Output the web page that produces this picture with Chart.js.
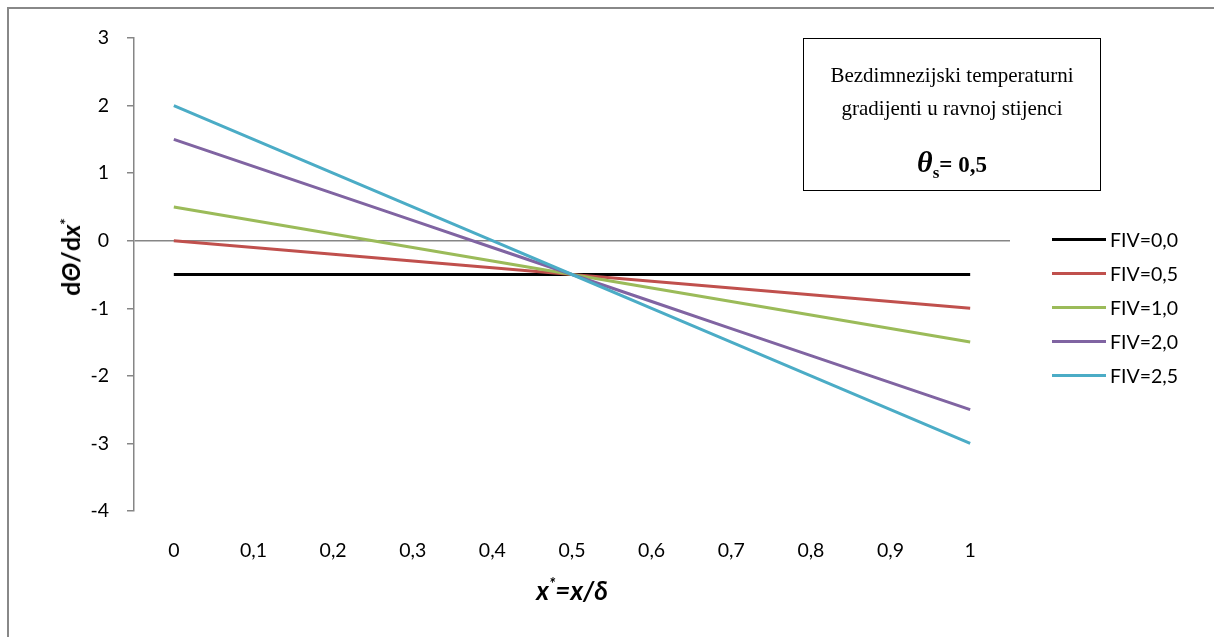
<!DOCTYPE html>
<html><head><meta charset="utf-8">
<script src="https://cdn.jsdelivr.net/npm/chart.js@4/dist/chart.umd.min.js"></script>
<style>
html,body{margin:0;padding:0;background:#fff;}
#wrap{position:relative;width:1214px;height:637px;overflow:hidden;}
#frame{position:absolute;left:7px;top:7px;width:1300px;height:700px;border:2px solid #888;box-sizing:border-box;}
canvas{position:absolute;left:0;top:0;}
#box{position:absolute;left:803px;top:38px;width:298px;height:153px;border:1.5px solid #000;box-sizing:border-box;font-family:"Liberation Serif","Times New Roman",serif;text-align:center;color:#000;}
#box .l1{position:absolute;left:0;right:0;top:20px;font-size:21px;line-height:33px;}
#box .l3{position:absolute;left:0;right:0;top:106px;font-size:23px;font-weight:bold;}
#ytitle{position:absolute;left:70px;top:257px;transform:translate(-50%,-50%) rotate(-90deg);font-family:Lato,"Open Sans",sans-serif;font-weight:bold;font-size:25px;white-space:nowrap;color:#000;}
#xtitle{position:absolute;left:572px;top:590px;transform:translate(-50%,-50%);font-family:Lato,"Open Sans",sans-serif;font-weight:bold;font-style:italic;font-size:26px;white-space:nowrap;color:#000;}
#legend{position:absolute;left:1052px;top:0;font-family:Lato,"Open Sans",sans-serif;font-size:19.5px;color:#000;}
#legend .it{position:absolute;left:0;white-space:nowrap;height:24px;line-height:24px;}
#legend .sw{position:absolute;left:0;top:10px;width:54px;height:3px;}
#legend .tx{position:absolute;left:58px;top:0;}
sup{font-size:62%;}
</style></head>
<body><div id="wrap">
<div id="frame"></div>
<canvas id="c" width="1214" height="637"></canvas>
<div id="box"><div class="l1">Bezdimnezijski temperaturni<br>gradijenti u ravnoj stijenci</div>
<div class="l3"><i style="font-size:30px">θ</i><sub style="font-size:17px">s</sub>= 0,5</div></div>
<div id="ytitle">d<i>Θ</i>/d<i>x</i><sup>*</sup></div>
<div id="xtitle">x<sup>*</sup>=x/δ</div>
<div id="legend"></div>
</div>
<script>
const categories = ['0','0,1','0,2','0,3','0,4','0,5','0,6','0,7','0,8','0,9','1'];
const seriesNames = ['FIV=0,0','FIV=0,5','FIV=1,0','FIV=2,0','FIV=2,5'];
const fiv00 = [-0.5,-0.5,-0.5,-0.5,-0.5,-0.5,-0.5,-0.5,-0.5,-0.5,-0.5];
const fiv05 = [0,-0.1,-0.2,-0.3,-0.4,-0.5,-0.6,-0.7,-0.8,-0.9,-1];
const fiv10 = [0.5,0.3,0.1,-0.1,-0.3,-0.5,-0.7,-0.9,-1.1,-1.3,-1.5];
const fiv20 = [1.5,1.1,0.7,0.3,-0.1,-0.5,-0.9,-1.3,-1.7,-2.1,-2.5];
const fiv25 = [2,1.5,1,0.5,0,-0.5,-1,-1.5,-2,-2.5,-3];
const yTicks = [-4,-3,-2,-1,0,1,2,3];
const colors = ['#000000','#C0504D','#9BBB59','#8064A2','#4BACC6'];
const allSeries = [fiv00,fiv05,fiv10,fiv20,fiv25];

const datasets = allSeries.map((d,i)=>({
  label: seriesNames[i], data: d, borderColor: colors[i], backgroundColor: colors[i],
  borderWidth: 3, pointRadius: 0, tension: 0, fill: false, order: 4-i
}));

const chart = new Chart(document.getElementById('c'), {
  type: 'line',
  data: { labels: categories, datasets },
  options: {
    responsive: false, animation: false, devicePixelRatio: 1,
    layout: { padding: { left: 0, top: 38, right: 204, bottom: 0 } },
    plugins: { legend: { display: false }, tooltip: { enabled: false } },
    scales: {
      x: {
        type: 'category', offset: true,
        grid: { display: false, drawTicks: false },
        border: { display: false },
        ticks: { color: '#000', padding: 28, font: { family: 'Lato', size: 19.5 }, maxRotation: 0, autoSkip: false },
        afterFit: s => { s.height = 126; }
      },
      y: {
        min: -4, max: 3,
        afterBuildTicks: s => { s.ticks = yTicks.map(v=>({value:v})); },
        grid: { color: c => (c.tick && c.tick.value === 0) ? '#868686' : 'rgba(0,0,0,0)', lineWidth: 1.5, tickColor: '#868686', tickLength: 7, drawTicks: true },
        border: { display: true, color: '#868686', width: 1.5 },
        ticks: { color: '#000', padding: 18, font: { family: 'Lato', size: 19.5 }, callback: v => String(v) },
        afterFit: s => { s.width = 134; }
      }
    }
  }
});

const lg = document.getElementById('legend');
const legendTop = [240,274,308,342,376];
chart.data.datasets.forEach((ds,i)=>{
  const it = document.createElement('div'); it.className='it';
  it.style.top = (legendTop[i]-12)+'px';
  it.innerHTML = '<div class="sw" style="background:'+ds.borderColor+'"></div><div class="tx"></div>';
  it.querySelector('.tx').textContent = ds.label;
  lg.appendChild(it);
});
</script>
</body></html>
